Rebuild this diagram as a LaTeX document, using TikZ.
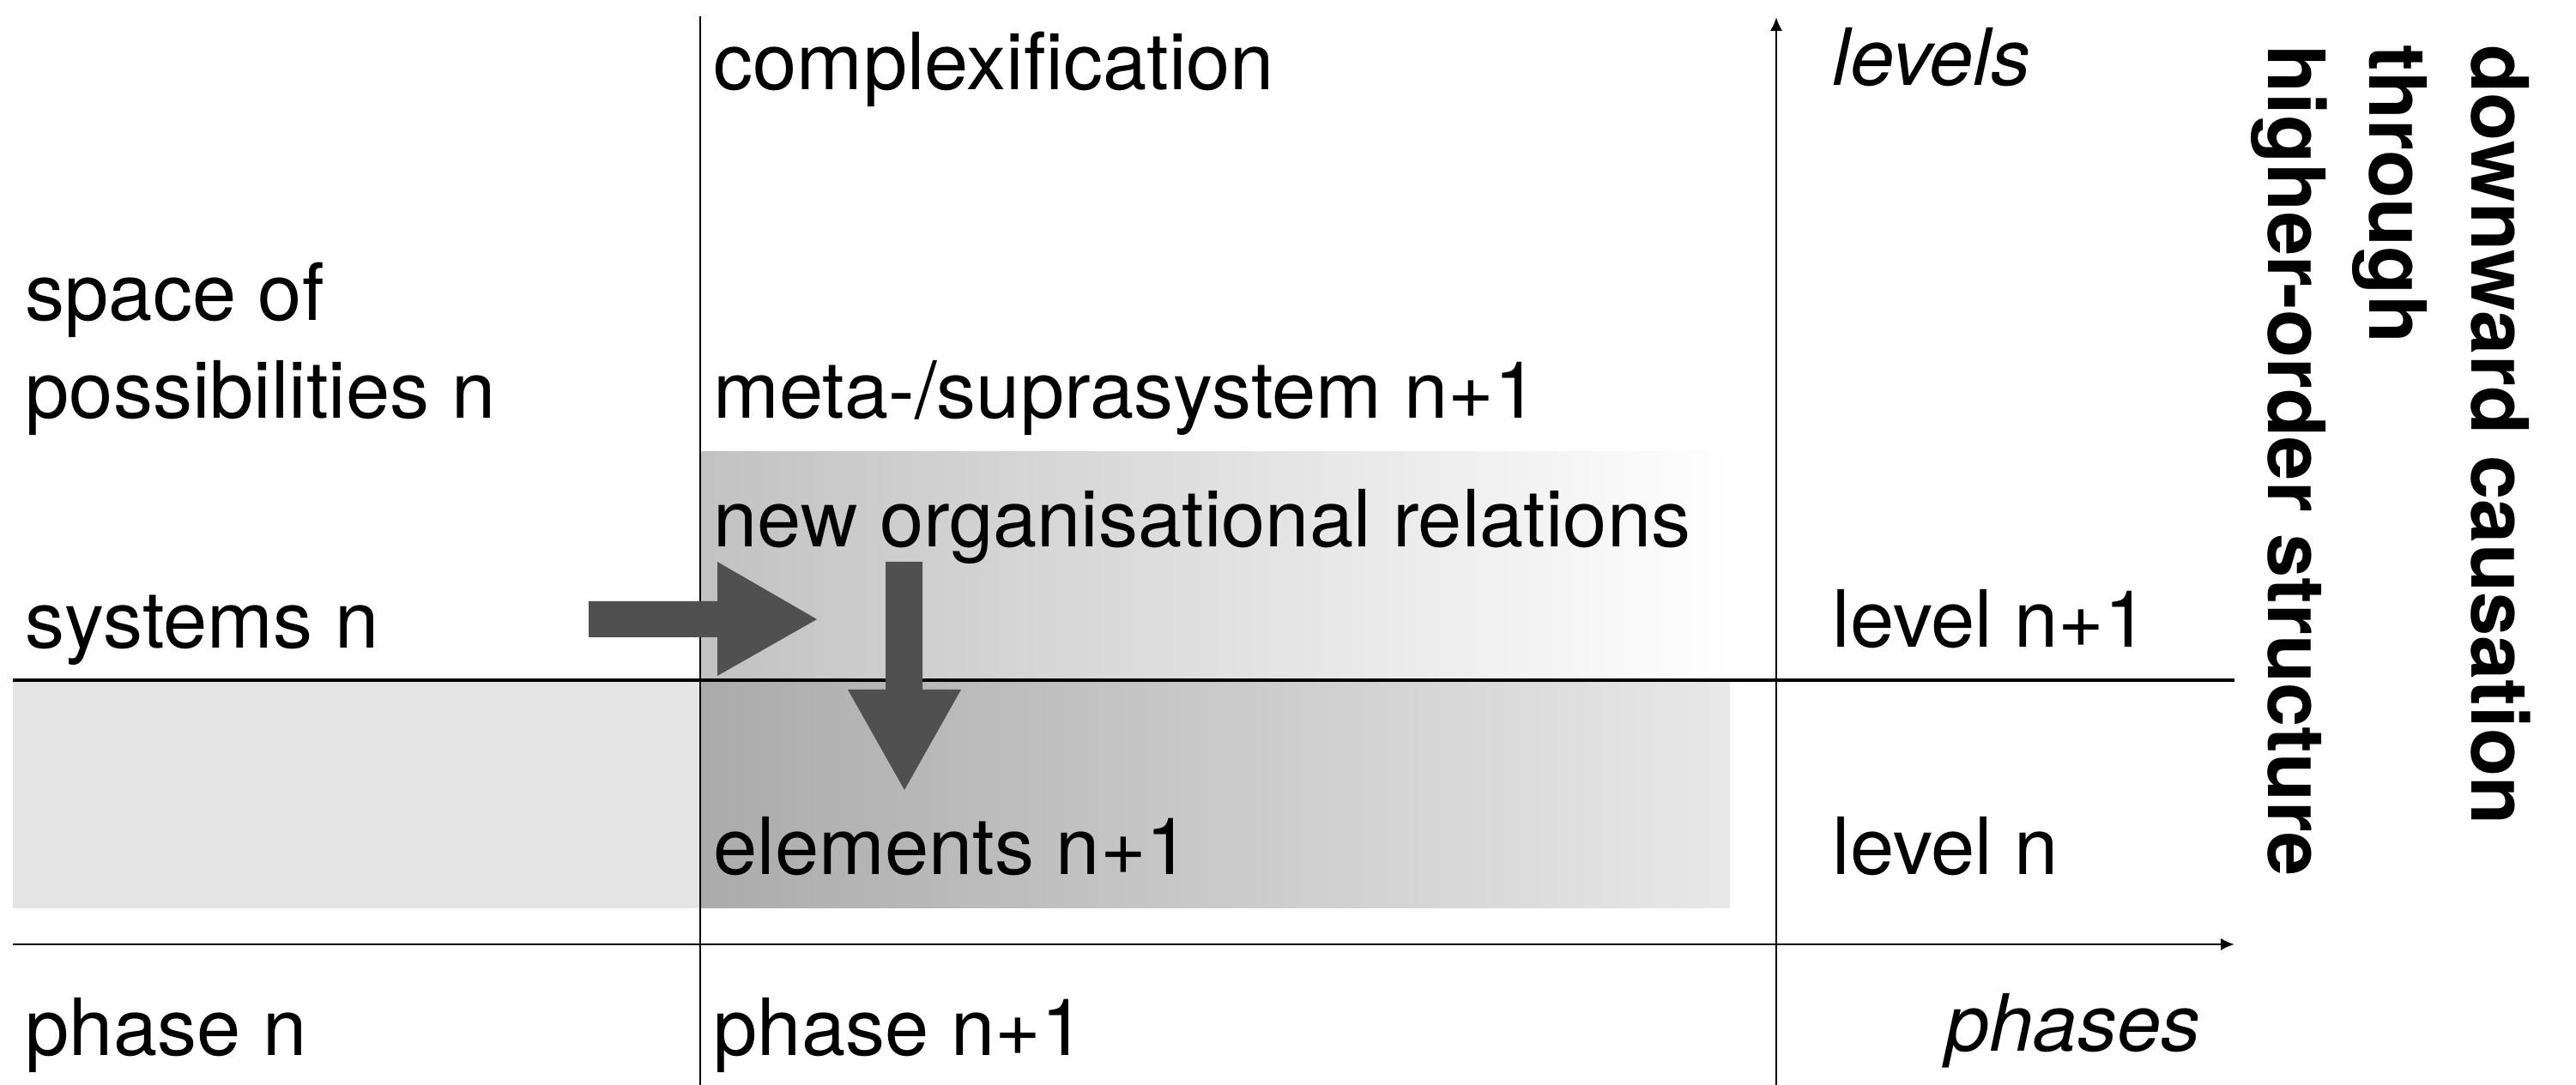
\documentclass[tikz,border=0pt]{standalone}
\usepackage{fontspec}
\setmainfont{TeX Gyre Heros}
\usetikzlibrary{arrows.meta}
\definecolor{arrowgray}{HTML}{505050}
\definecolor{bandgray}{HTML}{E5E5E5}
\begin{document}
\begin{tikzpicture}[>={Latex[length=4.5pt,width=4pt]},
	every node/.style={inner sep=0pt,font=\fontsize{26.2}{32.7}\selectfont},
	lbl/.style={anchor=base west},
	axisline/.style={line width=.7pt},
	blockarrow/.style={fill=arrowgray},
]
	\useasboundingbox (0,0) rectangle (30.02,12.65);
	% bands
	\begin{scope}
		\fill[bandgray] (.15,2.06) rectangle (20.16,4.72);
		\shade[left color=black!33,right color=black!9]
			(8.16,2.06) rectangle (20.16,4.72)
		;
		\shade[left color=black!24,right color=white]
			(8.16,4.72) rectangle (20.20,7.38)
		;
	\end{scope}
	% axes
	\begin{scope}[axisline]
		\coordinate (o1) at (.15,4.72);
		\coordinate (e1) at (26.04,4.72);
		\coordinate (o2) at (.15,1.64);
		\coordinate (e2) at (26.04,1.64);
		\draw (8.16,0) -- (8.16,12.46);
		\draw[line width=1pt] (o1) -- (e1);
		\draw[->] (o2) -- (e2);
		\draw[->] (20.70,0) -- (20.70,12.45);
	\end{scope}
	% block arrows
	\begin{scope}[blockarrow]
		\fill
			(6.86,5.64) -- (8.36,5.64) -- (8.36,6.10) -- (9.52,5.43)
			-- (8.36,4.77) -- (8.36,5.22) -- (6.86,5.22) -- cycle
		;
		\fill
			(10.32,6.10) -- (10.75,6.10) -- (10.75,4.61) -- (11.20,4.61)
			-- (10.54,3.44) -- (9.88,4.61) -- (10.32,4.61) -- cycle
		;
	\end{scope}
	% labels
	\node[lbl] (cplx) at (8.31,11.60) {complexification};
	\node[lbl] (lvls) at (21.35,11.65) {\itshape levels};
	\node[lbl,align=left] (space) at (.29,7.77) {space of\\possibilities n};
	\node[lbl] (meta) at (8.31,7.77) {meta-/suprasystem n+1};
	\node[lbl] (rel) at (8.31,6.27) {new organisational relations};
	\node[lbl] (sys) at (.29,5.09) {systems n};
	\node[lbl] (lv1) at (21.35,5.10) {level n+1};
	\node[lbl] (elem) at (8.31,2.45) {elements n+1};
	\node[lbl] (lv0) at (21.35,2.45) {level n};
	\node[lbl] (ph0) at (.29,.34) {phase n};
	\node[lbl] (ph1) at (8.31,.34) {phase n+1};
	\node[anchor=base east] (phs) at (25.65,.39) {\itshape phases};
	\node[rotate=-90,anchor=north west,align=left,font=\fontsize{26.2}{33.8}\selectfont\bfseries]
		(down) at (29.50,12.13) {downward causation\\through\\higher-order structure};
\end{tikzpicture}
\end{document}
